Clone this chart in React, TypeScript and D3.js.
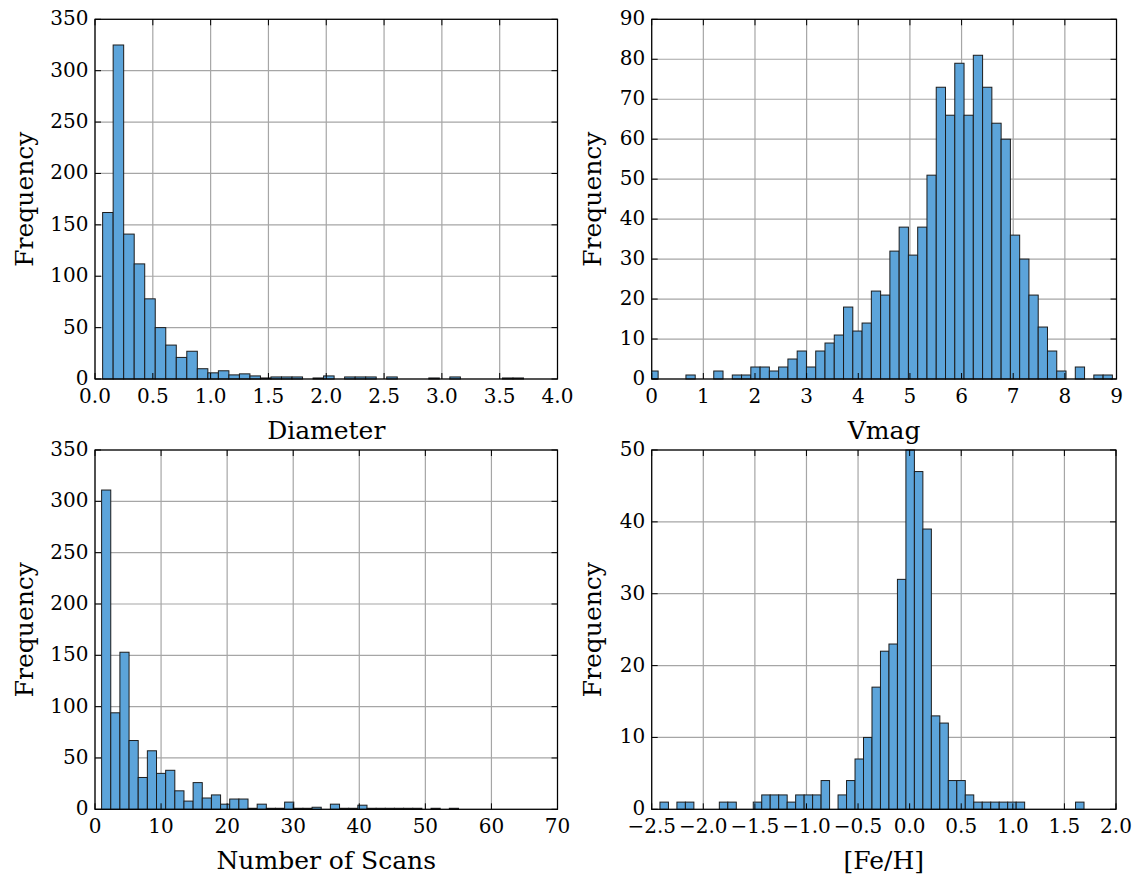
import React from "react";
import * as d3 from "d3";

// ---- Data (histogram counts) ----
const diameterCounts = [162, 325, 141, 112, 78, 50, 33, 21, 27, 10, 6, 8, 4, 5, 3, 1, 2, 2, 2, 0, 1, 3, 0, 2, 2, 2, 0, 2, 0, 0, 0, 1, 0, 2, 0, 0, 0, 0, 1, 1];
const diameterBinStart = 0.066;
const diameterBinWidth = 0.091;

const vmagCounts = [2, 0, 0, 0, 1, 0, 0, 2, 0, 1, 1, 3, 3, 2, 3, 5, 7, 3, 7, 9, 11, 18, 12, 14, 22, 21, 32, 38, 31, 38, 51, 73, 66, 79, 66, 81, 73, 64, 60, 36, 30, 21, 13, 7, 2, 0, 3, 0, 1, 1];
const vmagBinStart = -0.055;
const vmagBinWidth = 0.1795;

const scansCounts = [311, 94, 153, 67, 31, 57, 35, 38, 18, 8, 26, 11, 14, 5, 10, 10, 1, 5, 1, 1, 7, 1, 1, 2, 0, 5, 1, 1, 4, 1, 1, 1, 1, 1, 1, 0, 1, 0, 1];
const scansBinStart = 1;
const scansBinWidth = 1.385;

const fehCounts = [1, 0, 1, 1, 0, 0, 0, 1, 1, 0, 0, 1, 2, 2, 2, 1, 2, 2, 2, 4, 0, 2, 4, 7, 10, 17, 22, 23, 32, 50, 47, 39, 13, 12, 4, 4, 2, 1, 1, 1, 1, 1, 1, 0, 0, 0, 0, 0, 0, 1];
const fehBinStart = -2.42;
const fehBinWidth = 0.0822;

const diameterTicks = [0, 0.5, 1, 1.5, 2, 2.5, 3, 3.5, 4];
const vmagTicks = [0, 1, 2, 3, 4, 5, 6, 7, 8, 9];
const scansTicks = [0, 10, 20, 30, 40, 50, 60, 70];
const fehTicks = [-2.5, -2, -1.5, -1, -0.5, 0, 0.5, 1, 1.5, 2];
const freqTicks350 = [0, 50, 100, 150, 200, 250, 300, 350];
const freqTicks90 = [0, 10, 20, 30, 40, 50, 60, 70, 80, 90];
const freqTicks50 = [0, 10, 20, 30, 40, 50];

const FONT = "'DejaVu Serif', serif";
const BAR_FILL = "#5ca4da";
const BAR_EDGE = "#1c1c1c";
const GRID = "#a6a6a6";

type PanelProps = {
  id: string;
  left: number;
  right: number;
  top: number;
  bottom: number;
  xDomain: [number, number];
  yDomain: [number, number];
  xTicks: number[];
  yTicks: number[];
  xFmt: (v: number) => string;
  counts: number[];
  binStart: number;
  binWidth: number;
  xLabel: string;
  yLabelX: number;
  xLabelY: number;
};

function Panel(p: PanelProps) {
  const x = d3.scaleLinear().domain(p.xDomain).range([p.left, p.right]);
  const y = d3.scaleLinear().domain(p.yDomain).range([p.bottom, p.top]);
  const tick = 6;
  const bins = p.counts.map((c, i) => ({
    x0: p.binStart + i * p.binWidth,
    x1: p.binStart + (i + 1) * p.binWidth,
    c,
  }));
  return (
    <g>
      <defs>
        <clipPath id={p.id}>
          <rect x={p.left} y={p.top - 1} width={p.right - p.left} height={p.bottom - p.top + 2} />
        </clipPath>
      </defs>
      {p.xTicks.map((t) => (
        <line key={"gx" + t} x1={x(t)} x2={x(t)} y1={p.top} y2={p.bottom} stroke={GRID} strokeWidth={1.2} />
      ))}
      {p.yTicks.map((t) => (
        <line key={"gy" + t} x1={p.left} x2={p.right} y1={y(t)} y2={y(t)} stroke={GRID} strokeWidth={1.2} />
      ))}
      <g clipPath={`url(#${p.id})`}>
        {bins.map((b, i) => (
          <rect
            key={i}
            x={x(b.x0)}
            y={y(b.c)}
            width={x(b.x1) - x(b.x0)}
            height={y(0) - y(b.c)}
            fill={BAR_FILL}
            stroke={BAR_EDGE}
            strokeWidth={1}
          />
        ))}
      </g>
      <rect x={p.left} y={p.top} width={p.right - p.left} height={p.bottom - p.top} fill="none" stroke="#000" strokeWidth={1.2} />
      {p.xTicks.map((t) => (
        <g key={"tx" + t}>
          <line x1={x(t)} x2={x(t)} y1={p.bottom} y2={p.bottom - tick} stroke="#000" strokeWidth={1} />
          <line x1={x(t)} x2={x(t)} y1={p.top} y2={p.top + tick} stroke="#000" strokeWidth={1} />
          <text x={x(t)} y={p.bottom + 23.5} textAnchor="middle" fontFamily={FONT} fontSize={20} fill="#000">
            {p.xFmt(t)}
          </text>
        </g>
      ))}
      {p.yTicks.map((t) => (
        <g key={"ty" + t}>
          <line x1={p.left} x2={p.left + tick} y1={y(t)} y2={y(t)} stroke="#000" strokeWidth={1} />
          <line x1={p.right} x2={p.right - tick} y1={y(t)} y2={y(t)} stroke="#000" strokeWidth={1} />
          <text x={p.left - 6.5} y={y(t) + 6} textAnchor="end" fontFamily={FONT} fontSize={20} fill="#000">
            {t}
          </text>
        </g>
      ))}
      <text x={(p.left + p.right) / 2} y={p.xLabelY} textAnchor="middle" fontFamily={FONT} fontSize={25} fill="#000">
        {p.xLabel}
      </text>
      <text
        transform={`translate(${p.yLabelX},${(p.top + p.bottom) / 2}) rotate(-90)`}
        textAnchor="middle"
        fontFamily={FONT}
        fontSize={25}
        fill="#000"
      >
        Frequency
      </text>
    </g>
  );
}

export default function App() {
  const f1 = d3.format(".1f");
  const f0 = d3.format("d");
  return (
    <svg
      width={1138}
      height={876}
      style={{ position: "absolute", left: 0, top: 0, background: "#fff" }}
    >
      <rect width={1138} height={876} fill="#fff" />
      <Panel
        id="c1"
        left={95}
        right={557.5}
        top={19.3}
        bottom={379}
        xDomain={[0, 4]}
        yDomain={[0, 350]}
        xTicks={diameterTicks}
        yTicks={freqTicks350}
        xFmt={f1}
        counts={diameterCounts}
        binStart={diameterBinStart}
        binWidth={diameterBinWidth}
        xLabel="Diameter"
        yLabelX={33}
        xLabelY={439}
      />
      <Panel
        id="c2"
        left={651.7}
        right={1116.5}
        top={19.3}
        bottom={379}
        xDomain={[0, 9]}
        yDomain={[0, 90]}
        xTicks={vmagTicks}
        yTicks={freqTicks90}
        xFmt={f0}
        counts={vmagCounts}
        binStart={vmagBinStart}
        binWidth={vmagBinWidth}
        xLabel="Vmag"
        yLabelX={601}
        xLabelY={439}
      />
      <Panel
        id="c3"
        left={95}
        right={557.5}
        top={450}
        bottom={809.3}
        xDomain={[0, 70]}
        yDomain={[0, 350]}
        xTicks={scansTicks}
        yTicks={freqTicks350}
        xFmt={f0}
        counts={scansCounts}
        binStart={scansBinStart}
        binWidth={scansBinWidth}
        xLabel="Number of Scans"
        yLabelX={33}
        xLabelY={869}
      />
      <Panel
        id="c4"
        left={651.7}
        right={1116}
        top={450}
        bottom={809.3}
        xDomain={[-2.5, 2]}
        yDomain={[0, 50]}
        xTicks={fehTicks}
        yTicks={freqTicks50}
        xFmt={f1}
        counts={fehCounts}
        binStart={fehBinStart}
        binWidth={fehBinWidth}
        xLabel="[Fe/H]"
        yLabelX={601}
        xLabelY={869}
      />
    </svg>
  );
}
